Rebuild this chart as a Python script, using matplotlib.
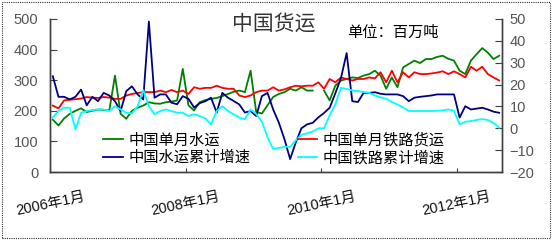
import numpy as np
import matplotlib
matplotlib.use("Agg")
import matplotlib.pyplot as plt
from matplotlib.patches import Rectangle

plt.rcParams['font.family'] = ['Liberation Sans', 'Noto Sans CJK SC', 'DejaVu Sans']

# Months 2006-01 .. 2012-08 (80 months)
tick_positions = [0, 24, 48, 72]
tick_labels = ['2006年1月', '2008年1月', '2010年1月', '2012年1月']

water_monthly = [171, 152, 175, 190, 200, 208, 196, 200, 204, 203,
                 201, 315, 190, 174, 200, 210, 217, 228, 224, 223,
                 228, 230, 234, 337, 218, 201, 228, 235, 239, 242,
                 248, 255, 262, 266, 261, 331, 196, 191, 218, 245,
                 255, 261, 272, 266, 277, 266, 266, np.nan, 266, 234,
                 282, 299, 304, 309, 307, 315, 320, 331, 315, 272,
                 309, 277, 342, 353, 364, 356, 369, 369, 376, 380,
                 370, 364, 331, 320, 364, 385, 405, 390, 369, 380]

rail_monthly = [217, 208, 234, 236, 238, 240, 245, 243, 242, 245,
                243, 239, 239, 250, 255, 258, 261, 261, 261, 266,
                261, 268, 261, 266, 255, 277, 272, 275, 275, 282,
                275, 272, 272, 250, 245, 250, 261, 266, 266, 277,
                266, 270, 277, 282, 280, 282, 282, 293, 272, 304,
                293, 309, 304, 299, 304, 304, 309, 306, 326, 293,
                331, 293, 326, 309, 326, 320, 320, 322, 325, 329,
                320, 329, 320, 309, 344, 331, 344, 320, 309, 299]

water_cum_growth = [23.8, 14.4, 14.4, 13.2, 14.4, 17.7, 10.5, 14.4, 12.4, 16.2,
                    15.0, 12.4, 7.9, 17.0, 19.2, 15.5, 13.2, 48.8, 14.0, 15.5,
                    15.5, 11.7, 11.0, 14.7, 13.5, 9.5, 11.5, 12.4, 14.0, 7.2,
                    16.2, 14.0, 12.5, 10.9, 7.2, 7.9, 5.6, 14.7, 16.2, 8.6,
                    2.6, -5.0, -14.1, -6.5, 0.0, 1.8, 2.5, 5.0, 7.0, 9.4,
                    16.0, 23.0, 34.4, 12.4, 12.0, 16.2, 16.2, 16.5, 15.8, 15.5,
                    15.5, 15.5, 14.7, 12.4, 14.0, 14.4, 14.7, 15.0, 15.5, 15.5,
                    15.5, 15.5, 4.9, 10.1, 8.6, 9.0, 9.4, 8.6, 7.6, 7.1]

rail_cum_growth = [5.0, 7.9, 9.4, 9.4, -0.5, 7.1, 7.9, 8.3, 8.6, 8.6,
                   7.9, 10.1, 8.6, 7.1, 6.8, 10.0, 17.5, 10.1, 6.4, 7.9,
                   8.6, 7.9, 7.1, 7.1, 5.6, 6.4, 5.6, 4.5, 1.8, 7.9,
                   10.1, 7.9, 6.4, 4.9, 4.1, 8.6, 6.5, 3.0, -4.0, -9.5,
                   -9.0, -8.5, -8.5, -5.5, -3.0, -2.3, -1.5, 0.0, 0.0, 6.0,
                   11.0, 18.5, 18.0, 17.3, 17.0, 16.6, 16.2, 15.0, 14.2, 13.5,
                   12.0, 10.9, 9.5, 7.9, 7.9, 7.9, 7.9, 7.9, 8.0, 8.2,
                   8.6, 8.0, 1.8, 3.0, 3.3, 3.8, 4.2, 3.8, 2.5, 0.3]

labels = ['中国单月水运', '中国单月铁路货运', '中国水运累计增速', '中国铁路累计增速']
colors = ['#008000', '#FF0000', '#000080', '#00FFFF']

x = np.arange(len(water_monthly)) + 0.5

fig = plt.figure(figsize=(5.55, 2.40), dpi=100)
ax = fig.add_axes([50/555, 1-172/240, 452/555, 153/240])
ax2 = ax.twinx()

lw = 1.3
l1, = ax.plot(x, water_monthly, color=colors[0], lw=lw)
l2, = ax.plot(x, rail_monthly, color=colors[1], lw=lw)
l3, = ax2.plot(x, water_cum_growth, color=colors[2], lw=lw)
l4, = ax2.plot(x, rail_cum_growth, color=colors[3], lw=lw)

ax.set_xlim(0, len(water_monthly))
ax.set_ylim(0, 500)
ax.set_yticks([0, 100, 200, 300, 400, 500])
ax2.set_ylim(-20, 50)
ax2.set_yticks([-20, -10, 0, 10, 20, 30, 40, 50])
ax.set_xticks(tick_positions)
ax.set_xticklabels(tick_labels, rotation=12, ha='center', fontsize=10.5)

spine_col = '#404040'
for a in (ax, ax2):
    a.spines['top'].set_visible(False)
    for s in ('left', 'right', 'bottom'):
        a.spines[s].set_color(spine_col)
        a.spines[s].set_linewidth(1.0)
ax.tick_params(axis='y', direction='in', length=5, pad=8.5, labelsize=10.5,
               labelcolor='#555555', color=spine_col)
ax2.tick_params(axis='y', direction='in', length=5, pad=5.5, labelsize=10.5,
                labelcolor='#555555', color=spine_col)
ax.tick_params(axis='x', direction='in', length=3, pad=13, color=spine_col,
               labelcolor='#111111')

# column-wise fill: col1 = water items, col2 = rail items
fig.legend([l1, l3, l2, l4], [labels[0], labels[2], labels[1], labels[3]],
           loc='upper left', bbox_to_anchor=(103/555, 1-133/240), ncol=2,
           frameon=False, fontsize=11, handlelength=1.3, handletextpad=0.35,
           columnspacing=3.1, labelspacing=0.2, borderpad=0, borderaxespad=0)

fig.text(274/555, 1-24/240, '中国货运', ha='center', va='center',
         fontsize=15, color='#333333')
fig.text(393/555, 1-33/240, '单位：百万吨', ha='center', va='center',
         fontsize=11, color='#000000')

fig.patches.append(Rectangle((2/555, 2/240), 548/555, 236/240,
                             transform=fig.transFigure, fill=False,
                             edgecolor='#333333', linestyle=(0, (1, 1)),
                             linewidth=0.8))

fig.savefig('out.png', dpi=100)
